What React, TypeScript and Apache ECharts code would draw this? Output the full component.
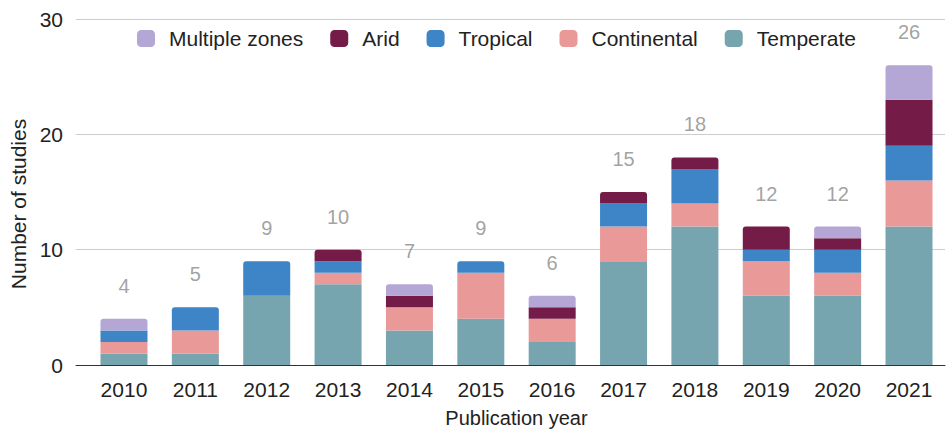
import React, { useEffect, useRef } from "react";
import * as echarts from "echarts";

const years = ["2010", "2011", "2012", "2013", "2014", "2015", "2016", "2017", "2018", "2019", "2020", "2021"];
const temperate = [1, 1, 6, 7, 3, 4, 2, 9, 12, 6, 6, 12];
const continental = [1, 2, 0, 1, 2, 4, 2, 3, 2, 3, 2, 4];
const tropical = [1, 2, 3, 1, 0, 1, 0, 2, 3, 1, 2, 3];
const arid = [0, 0, 0, 1, 1, 0, 1, 1, 1, 2, 1, 4];
const multiple = [1, 0, 0, 0, 1, 0, 1, 0, 0, 0, 1, 3];
const yTicks = [0, 10, 20, 30];

const seriesDefs = [
  { name: "Temperate", data: temperate, color: "#76a5af" },
  { name: "Continental", data: continental, color: "#ea9999" },
  { name: "Tropical", data: tropical, color: "#3d85c6" },
  { name: "Arid", data: arid, color: "#741b47" },
  { name: "Multiple zones", data: multiple, color: "#b4a7d6" },
];

const FONT = "'Liberation Sans', Arial, sans-serif";

export default function App() {
  const ref = useRef<HTMLDivElement>(null);
  useEffect(() => {
    if (!ref.current) return;
    const chart = echarts.init(ref.current, undefined, { renderer: "svg" });
    const totals = years.map((_, i) => seriesDefs.reduce((s, d) => s + d.data[i], 0));
    const topIdx = years.map((_, i) => {
      let t = -1;
      seriesDefs.forEach((d, k) => {
        if (d.data[i] > 0) t = k;
      });
      return t;
    });
    const barSeries = seriesDefs.map((d, k) => ({
      name: d.name,
      type: "bar",
      stack: "total",
      xAxisIndex: 1,
      yAxisIndex: 1,
      barWidth: 47,
      itemStyle: { color: d.color },
      data: d.data.map((v, i) => ({
        value: v,
        itemStyle: { borderRadius: topIdx[i] === k ? [3, 3, 0, 0] : 0 },
      })),
    }));
    chart.setOption({
      animation: false,
      textStyle: { fontFamily: FONT },
      legend: {
        data: ["Multiple zones", "Arid", "Tropical", "Continental", "Temperate"],
        left: 137,
        top: 28,
        padding: 0,
        itemWidth: 18,
        itemHeight: 17,
        itemGap: 27,
        icon: "roundRect",
        textStyle: { fontSize: 21, color: "#222", fontFamily: FONT, padding: [0, 0, 0, 9] },
      },
      grid: [
        { left: 76, right: 2, top: 19, bottom: 70, outerBoundsMode: "none", containLabel: false },
        { left: 88.3, right: 2.3, top: 19, bottom: 70, outerBoundsMode: "none", containLabel: false },
      ],
      xAxis: [
        {
          type: "category",
          gridIndex: 0,
          data: years,
          axisLine: { show: true, lineStyle: { color: "#333", width: 1 } },
          axisTick: { show: false },
          axisLabel: { show: false },
        },
        {
          type: "category",
          gridIndex: 1,
          data: years,
          axisLine: { show: false },
          axisTick: { show: false },
          axisLabel: { color: "#222", fontSize: 21, margin: 14, fontFamily: FONT },
          name: "Publication year",
          nameLocation: "middle",
          nameGap: 43,
          nameTextStyle: { color: "#222", fontSize: 20, fontFamily: FONT },
        },
      ],
      yAxis: [
        {
          type: "value",
          gridIndex: 0,
          min: yTicks[0],
          max: yTicks[yTicks.length - 1],
          interval: 10,
          axisLine: { show: false },
          axisTick: { show: false },
          splitLine: { lineStyle: { color: "#cccccc", width: 1 } },
          axisLabel: { color: "#222", fontSize: 21, margin: 13, fontFamily: FONT },
          name: "Number of studies",
          nameLocation: "middle",
          nameRotate: 90,
          nameGap: 47,
          nameTextStyle: { color: "#222", fontSize: 21, fontFamily: FONT, padding: [0, 24, 0, 0] },
        },
        {
          type: "value",
          gridIndex: 1,
          min: yTicks[0],
          max: yTicks[yTicks.length - 1],
          interval: 10,
          show: false,
          splitLine: { show: false },
        },
      ],
      series: [
        ...barSeries,
        {
          name: "Total",
          type: "scatter",
          xAxisIndex: 1,
          yAxisIndex: 1,
          symbolSize: 0,
          silent: true,
          data: totals,
          label: {
            show: true,
            position: "top",
            distance: 23,
            color: "#8a8a8a",
            fontSize: 20,
            fontFamily: FONT,
          },
          z: 10,
        },
      ],
    });
    return () => chart.dispose();
  }, []);
  return (
    <div
      ref={ref}
      style={{ position: "fixed", left: 0, top: 0, width: 947, height: 435, background: "#fff" }}
    />
  );
}
